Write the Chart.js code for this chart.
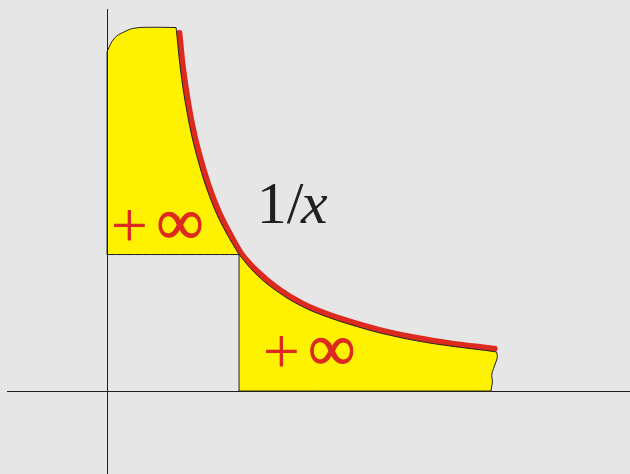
<!DOCTYPE html>
<html>
<head>
<meta charset="utf-8">
<script src="https://cdn.jsdelivr.net/npm/chart.js@4.4.0/dist/chart.umd.min.js"></script>
<style>
  html, body { margin: 0; padding: 0; background: #e6e6e6; }
  canvas { display: block; }
</style>
</head>
<body>
<canvas id="c" width="630" height="474"></canvas>
<script>
// all values in axis units: x = 1 and y = 1 meet on the curve

// rounded top of the left strip
const capPts = [[0, 2.486], [0.017, 2.522], [0.036, 2.559], [0.073, 2.601], [0.123, 2.628],
  [0.199, 2.657], [0.326, 2.665], [0.523, 2.663]];

// the 1/x edge of the yellow areas
const curvePts = [[0.533, 2.571], [0.548, 2.425], [0.574, 2.229], [0.610, 2.022], [0.646, 1.853],
  [0.689, 1.692], [0.746, 1.509], [0.828, 1.304], [0.904, 1.158], [1, 1],
  [1.121, 0.864], [1.280, 0.736], [1.475, 0.621], [1.677, 0.540], [1.930, 0.462],
  [2.093, 0.420], [2.346, 0.368], [2.598, 0.330], [2.902, 0.293]];

// torn right edge of the second area
const tornPts = [[2.951, 0.286], [2.957, 0.253], [2.947, 0.215], [2.928, 0.165], [2.914, 0.117],
  [2.920, 0.070], [2.913, 0.029], [2.909, 0]];

// red 1/x stroke
const redPts = [[0.548, 2.623], [0.553, 2.574], [0.568, 2.427], [0.595, 2.232], [0.630, 2.026],
  [0.666, 1.858], [0.709, 1.697], [0.766, 1.516], [0.847, 1.312], [0.922, 1.167],
  [1.013, 1.012], [1.136, 0.878], [1.292, 0.752], [1.484, 0.638], [1.683, 0.558],
  [1.936, 0.481], [2.098, 0.439], [2.350, 0.388], [2.602, 0.349], [2.904, 0.313],
  [2.936, 0.309]];

const xRange = [-0.758, 3.962];
const yRange = [-0.608, 2.799];
const axisTicks = [0];

const curveText = ['1/', 'x'];
const infText = ['+', '\u221E'];

const yellow = '#fff200';
const ink = '#231f20';
const red = '#dc2a1e';

const pt = p => ({x: p[0], y: p[1]});
const last = a => a[a.length - 1];

// corners are given twice so the smoothing keeps them sharp
const leftCurve = curvePts.filter(p => p[0] <= 1);
const rightCurve = curvePts.filter(p => p[0] > 1);
const leftPoly = [[0, 1], capPts[0]].concat(capPts, [last(capPts)], leftCurve, [last(leftCurve)], [[0, 1]]).map(pt);
const rightPoly = [[1, 0], [1, 1], [1, 1]].concat(rightCurve, [tornPts[0]], tornPts, [last(tornPts)], [[1, 0]]).map(pt);

function glyph(ctx, s, font, color, gx, gy, centred, thicken) {
  ctx.font = font;
  ctx.fillStyle = color;
  ctx.strokeStyle = color;
  ctx.textAlign = 'left';
  ctx.textBaseline = 'alphabetic';
  const m = ctx.measureText(s);
  let ox, oy;
  if (centred) {
    ox = gx - (m.actualBoundingBoxRight - m.actualBoundingBoxLeft) / 2;
    oy = gy + (m.actualBoundingBoxAscent - m.actualBoundingBoxDescent) / 2;
  } else {
    ox = gx + m.actualBoundingBoxLeft;
    oy = gy;
  }
  ctx.fillText(s, ox, oy);
  if (thicken) {
    ctx.lineWidth = thicken;
    ctx.strokeText(s, ox, oy);
  }
}

const textPlugin = {
  id: 'texts',
  afterDatasetsDraw(chart) {
    const {ctx, scales: {x, y}} = chart;
    ctx.save();
    // 1/x label
    glyph(ctx, curveText[0], "60px 'Liberation Serif'", ink, x.getPixelForValue(1.172), y.getPixelForValue(1.229), false);
    glyph(ctx, curveText[1], "italic 60px 'Liberation Serif'", ink, x.getPixelForValue(1.462), y.getPixelForValue(1.229), false);
    // +inf in both areas
    const f = "66px 'Liberation Serif'";
    glyph(ctx, infText[0], f, red, x.getPixelForValue(0.169), y.getPixelForValue(1.212), true);
    glyph(ctx, infText[1], f, red, x.getPixelForValue(0.553), y.getPixelForValue(1.217), true, 1);
    glyph(ctx, infText[0], f, red, x.getPixelForValue(1.320), y.getPixelForValue(0.292), true);
    glyph(ctx, infText[1], f, red, x.getPixelForValue(1.702), y.getPixelForValue(0.294), true, 1);
    ctx.restore();
  }
};

const axisOpts = (range) => ({
  type: 'linear',
  min: range[0],
  max: range[1],
  afterBuildTicks: s => { s.ticks = axisTicks.map(v => ({value: v})); },
  ticks: {display: false},
  border: {display: false},
  grid: {color: ink, lineWidth: 1, drawTicks: false, z: 1}
});

new Chart(document.getElementById('c'), {
  type: 'scatter',
  data: {
    datasets: [{
      data: leftPoly,
      showLine: true,
      fill: 'shape',
      tension: 0.4,
      backgroundColor: yellow,
      borderColor: ink,
      borderWidth: 1,
      pointRadius: 0
    }, {
      data: rightPoly,
      showLine: true,
      fill: 'shape',
      tension: 0.4,
      backgroundColor: yellow,
      borderColor: ink,
      borderWidth: 1,
      pointRadius: 0
    }, {
      data: redPts.map(pt),
      showLine: true,
      fill: false,
      borderColor: red,
      borderWidth: 6,
      borderCapStyle: 'round',
      cubicInterpolationMode: 'monotone',
      pointRadius: 0
    }]
  },
  options: {
    responsive: false,
    animation: false,
    devicePixelRatio: 1,
    events: [],
    layout: {padding: {left: 7, top: 9, right: 0, bottom: 0}},
    plugins: {legend: {display: false}, tooltip: {enabled: false}},
    scales: {
      x: axisOpts(xRange),
      y: axisOpts(yRange)
    }
  },
  plugins: [textPlugin]
});
</script>
</body>
</html>
